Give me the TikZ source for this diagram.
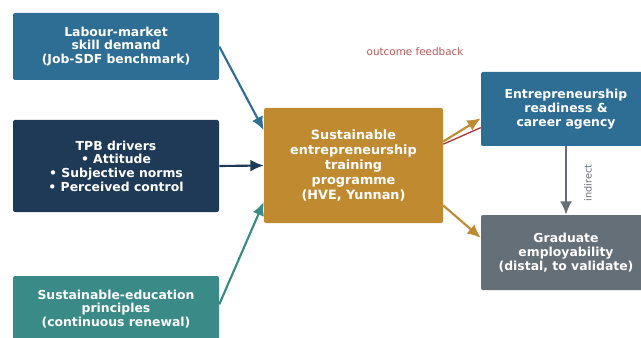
\documentclass[tikz,border=0pt]{standalone}
\usepackage{fontspec}
\setmainfont{DejaVu Sans}
\usetikzlibrary{arrows.meta}

\definecolor{steel}{HTML}{2E6E95}
\definecolor{navy}{HTML}{1F3A57}
\definecolor{teal}{HTML}{3A8A87}
\definecolor{ochre}{HTML}{C08A30}
\definecolor{slate}{HTML}{656F78}
\definecolor{feedback}{HTML}{A8393A}

\tikzset{
    box/.style={rounded corners=1.5pt, text=white, font=\bfseries\fontsize{9.3}{10.3}\selectfont, align=center, inner sep=0pt},
    link/.style={line width=1.6pt, -{Latex[length=10pt,width=9pt]}}
}

\begin{document}
\begin{tikzpicture}[x=0.75pt, y=-0.75pt, line join=round]

                \useasboundingbox (0,0) rectangle (641,338);

                % inputs on the left
                \node[box, fill=steel, minimum width=154.5pt, minimum height=50.25pt] (labour) at (116,46.5) {Labour-market\\skill demand\\(Job-SDF benchmark)};
                \node[box, fill=navy, minimum width=154.5pt, minimum height=69pt] (tpb) at (116,166) {TPB drivers\\\textbullet{} Attitude\\\textbullet{} Subjective norms\\\textbullet{} Perceived control};
                \node[box, fill=teal, minimum width=154.5pt, minimum height=49.5pt] (sustain) at (116,309) {Sustainable-education\\principles\\(continuous renewal)};

                % programme in the middle
                \node[box, fill=ochre, font=\bfseries\fontsize{9.6}{11.3}\selectfont, minimum width=134.25pt, minimum height=86.25pt] (prog) at (353.5,165.5) {Sustainable\\entrepreneurship\\training\\programme\\(HVE, Yunnan)};

                % outcomes on the right
                \node[box, fill=steel, minimum width=127.5pt, minimum height=55.5pt] (ready) at (566,109) {Entrepreneurship\\readiness \&\\career agency};
                \node[box, fill=slate, minimum width=127.5pt, minimum height=56.25pt] (employ) at (566,252.5) {Graduate\\employability\\(distal, to validate)};

                \draw[link, steel] (labour.east) -- ([yshift=26.6pt]prog.west);
                \draw[link, navy] (tpb.east) -- (prog.west);
                \draw[link, teal] ([yshift=3.5pt]sustain.east) -- ([yshift=-27.4pt]prog.west);

                \draw[link, ochre] ([yshift=18pt]prog.east) -- ([yshift=-7pt]ready.west);
                \draw[link, ochre] ([yshift=-30pt]prog.east) -- ([yshift=11pt]employ.west);
                \draw[link, slate] (ready.south) -- (employ.north);
                \node[rotate=90, font=\fontsize{7.3}{9}\selectfont, text=slate] (indirect) at (588,183) {indirect};

                \draw[feedback, line width=1pt] ([yshift=-14pt]ready.west) -- ([yshift=16pt]prog.east);
                \node[text=feedback!85!white, font=\fontsize{7.8}{9}\selectfont] (fblabel) at (415,52) {outcome feedback};

            \end{tikzpicture}
\end{document}
